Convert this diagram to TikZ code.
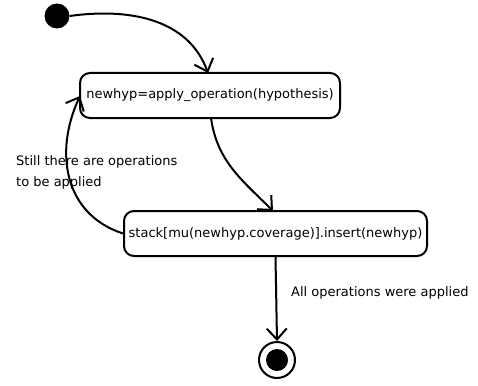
\documentclass[tikz,border=0pt]{standalone}
\usepackage{fontspec}
\setmainfont{DejaVu Sans}
\usetikzlibrary{arrows.meta}
\begin{document}
\begin{tikzpicture}[x=1pt,y=-1pt,
  state/.style={draw,line width=2pt,rounded corners=10pt,minimum height=45pt,inner sep=2pt,font=\fontsize{13}{15}\selectfont},
  trans/.style={line width=2pt,-{Straight Barb[length=11pt,width=20pt,line width=2pt]}},
  lbl/.style={font=\fontsize{13}{21}\selectfont,align=left,inner sep=0pt}]
\useasboundingbox (0,0) rectangle (478,385);
\node[circle,fill=black,minimum size=25pt,inner sep=0pt] (init) at (57,16) {};
\node[state,minimum width=260pt] (s1) at (210,95.5) {newhyp=apply\_operation(hypothesis)};
\node[state,minimum width=303pt] (s2) at (275.5,233.5) {stack[mu(newhyp.coverage)].insert(newhyp)};
\node[circle,draw,line width=2pt,minimum size=36pt,inner sep=0pt] (fin) at (277,360) {};
\node[circle,fill=black,minimum size=22pt,inner sep=0pt] at (fin) {};
\draw[trans] (init.east) to[out=8,in=110,looseness=1] (208,73);
\draw[trans] (211,118) to[out=-82,in=135,looseness=1] (273,211);
\draw[trans] (s2.west) to[out=162,in=-115,looseness=1.1] (80,96);
\draw[trans] (s2.south) -- (fin.north);
\node[lbl,anchor=north west] (l1) at (16,155) {Still there are operations\\to be applied};
\node[lbl,anchor=north west] (l2) at (291,286) {All operations were applied};
\end{tikzpicture}
\end{document}
